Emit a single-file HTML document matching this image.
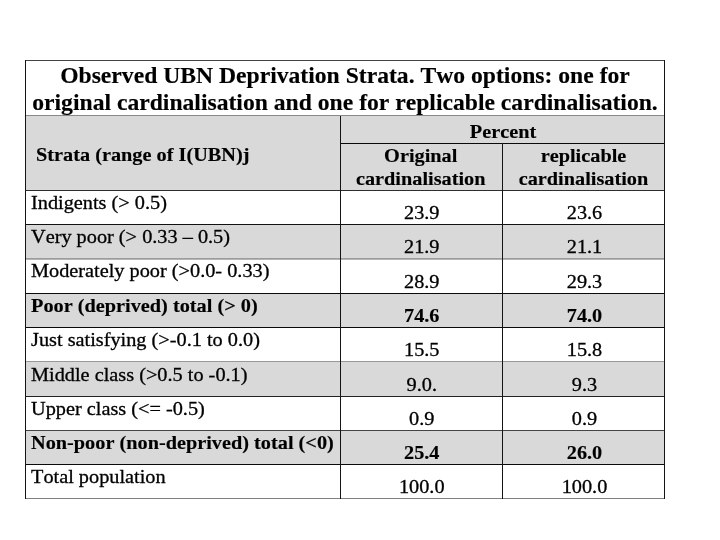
<!DOCTYPE html>
<html><head><meta charset="utf-8">
<style>
html,body{margin:0;padding:0;background:#fff;}
html{filter:grayscale(1);}
body{font-kerning:none;width:720px;height:540px;position:relative;overflow:hidden;font-family:"Liberation Serif",serif;color:#000;}
.c{position:absolute;box-sizing:border-box;}
.g{background:#d9d9d9;}
.hl{position:absolute;height:1px;background:#2a2a2a;left:25px;width:640px;}
.vl{position:absolute;width:1px;background:#141414;}
.t{position:absolute;white-space:nowrap;line-height:1;}
.t{-webkit-text-stroke:0.3px #000;}
.b{font-weight:bold;-webkit-text-stroke:0.15px #000;}
.t{transform:scaleX(1.046);transform-origin:0 50%;}
.t.ctr{transform-origin:50% 50%;}
#t1,#t2{transform:scaleX(0.989);}
.ctr{text-align:center;}
</style></head><body>
<!-- backgrounds -->
<div class="c g" style="left:25px;top:116px;width:640px;height:74px"></div>
<div class="c g" style="left:25px;top:225px;width:640px;height:33px"></div>
<div class="c g" style="left:25px;top:294px;width:640px;height:33px"></div>
<div class="c g" style="left:25px;top:362px;width:640px;height:34px"></div>
<div class="c g" style="left:25px;top:431px;width:640px;height:33px"></div>
<!-- lines -->
<div class="hl" style="top:60px;background:#444"></div>
<div class="hl" style="top:115px;background:#888"></div>
<div class="hl" style="top:143px;left:340px;width:325px;background:#0a0a0a"></div>
<div class="hl" style="top:190px;background:#2e2e2e"></div>
<div class="hl" style="top:224px;background:#111"></div>
<div class="hl" style="top:258px;background:#9c9c9c"></div>
<div class="hl" style="top:259px;background:#b4b4b4"></div>
<div class="hl" style="top:293px;background:#0a0a0a"></div>
<div class="hl" style="top:327px;background:#0a0a0a"></div>
<div class="hl" style="top:361px;background:#999"></div>
<div class="hl" style="top:396px;background:#222"></div>
<div class="hl" style="top:430px;background:#444"></div>
<div class="hl" style="top:464px;background:#0a0a0a"></div>
<div class="hl" style="top:498px;background:#808080"></div>
<div class="vl" style="left:25px;top:60px;height:439px"></div>
<div class="vl" style="left:664px;top:60px;height:439px"></div>
<div class="vl" style="left:340px;top:116px;height:383px"></div>
<div class="vl" style="left:502px;top:143px;height:356px"></div>
<!-- title -->
<div class="t b ctr" id="t1" style="left:25px;width:640px;top:63.78px;font-size:23.9px">Observed UBN Deprivation Strata. Two options: one for</div>
<div class="t b ctr" id="t2" style="left:25px;width:640px;top:90.78px;font-size:23.9px">original cardinalisation and one for replicable cardinalisation.</div>
<!-- header -->
<div class="t b" id="h0" style="left:36px;top:144.85px;font-size:19.4px">Strata (range of I(UBN)j</div>
<div class="t b ctr" id="h1" style="left:340.80px;width:324px;top:122.25px;font-size:19.4px">Percent</div>
<div class="t b ctr" id="h2" style="left:340.00px;width:161.5px;top:145.75px;font-size:19.4px">Original</div>
<div class="t b ctr" id="h3" style="left:340.00px;width:161.5px;top:169.15px;font-size:19.4px">cardinalisation</div>
<div class="t b ctr" id="h4" style="left:502px;width:163px;top:145.75px;font-size:19.4px">replicable</div>
<div class="t b ctr" id="h5" style="left:502px;width:163px;top:169.15px;font-size:19.4px">cardinalisation</div>
<!-- rows -->
<div class="t" id="r1" style="left:30.6px;top:192.85px;font-size:19.4px">Indigents (&gt; 0.5)</div>
<div class="t" id="r2" style="left:30.6px;top:226.85px;font-size:19.4px">Very poor (&gt; 0.33 – 0.5)</div>
<div class="t" id="r3" style="left:30.6px;top:261.35px;font-size:19.4px">Moderately poor (&gt;0.0- 0.33)</div>
<div class="t b" id="r4" style="left:30.6px;top:295.85px;font-size:19.4px">Poor (deprived) total (&gt; 0)</div>
<div class="t" id="r5" style="left:30.6px;top:329.85px;font-size:19.4px">Just satisfying (&gt;-0.1 to 0.0)</div>
<div class="t" id="r6" style="left:30.6px;top:364.75px;font-size:19.4px">Middle class (&gt;0.5 to -0.1)</div>
<div class="t" id="r7" style="left:30.6px;top:398.85px;font-size:19.4px">Upper class (&lt;= -0.5)</div>
<div class="t b" id="r8" style="left:30.6px;top:432.85px;font-size:19.4px">Non-poor (non-deprived) total (&lt;0)</div>
<div class="t" id="r9" style="left:30.6px;top:466.85px;font-size:19.4px">Total population</div>
<!-- values col1 -->
<div class="t ctr" id="a1" style="left:341.00px;width:161.5px;top:203.25px;font-size:19.4px">23.9</div>
<div class="t ctr" id="a2" style="left:341.00px;width:161.5px;top:237.25px;font-size:19.4px">21.9</div>
<div class="t ctr" id="a3" style="left:341.00px;width:161.5px;top:271.75px;font-size:19.4px">28.9</div>
<div class="t b ctr" id="a4" style="left:341.00px;width:161.5px;top:306.25px;font-size:19.4px">74.6</div>
<div class="t ctr" id="a5" style="left:341.00px;width:161.5px;top:340.25px;font-size:19.4px">15.5</div>
<div class="t ctr" id="a6" style="left:341.00px;width:161.5px;top:374.75px;font-size:19.4px">9.0.</div>
<div class="t ctr" id="a7" style="left:341.00px;width:161.5px;top:409.25px;font-size:19.4px">0.9</div>
<div class="t b ctr" id="a8" style="left:341.00px;width:161.5px;top:443.25px;font-size:19.4px">25.4</div>
<div class="t ctr" id="a9" style="left:341.00px;width:161.5px;top:477.25px;font-size:19.4px">100.0</div>
<!-- values col2 -->
<div class="t ctr" id="b1" style="left:502.50px;width:163px;top:203.25px;font-size:19.4px">23.6</div>
<div class="t ctr" id="b2" style="left:502.50px;width:163px;top:237.25px;font-size:19.4px">21.1</div>
<div class="t ctr" id="b3" style="left:502.50px;width:163px;top:271.75px;font-size:19.4px">29.3</div>
<div class="t b ctr" id="b4" style="left:502.50px;width:163px;top:306.25px;font-size:19.4px">74.0</div>
<div class="t ctr" id="b5" style="left:502.50px;width:163px;top:340.25px;font-size:19.4px">15.8</div>
<div class="t ctr" id="b6" style="left:502.50px;width:163px;top:374.75px;font-size:19.4px">9.3</div>
<div class="t ctr" id="b7" style="left:502.50px;width:163px;top:409.25px;font-size:19.4px">0.9</div>
<div class="t b ctr" id="b8" style="left:502.50px;width:163px;top:443.25px;font-size:19.4px">26.0</div>
<div class="t ctr" id="b9" style="left:502.50px;width:163px;top:477.25px;font-size:19.4px">100.0</div>
</body></html>
